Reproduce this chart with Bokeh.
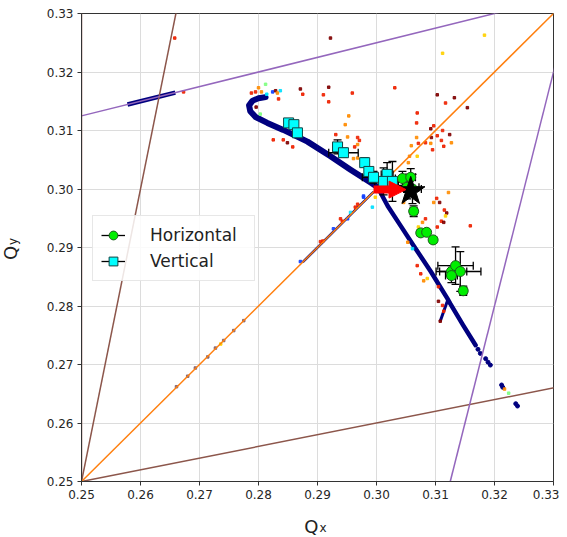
import numpy as np
from math import pi
from bokeh.plotting import figure
from bokeh.models import (Range1d, FixedTicker, Label, Legend, LegendItem,
                          Arrow, NormalHead)
from bokeh.embed import file_html
from bokeh.resources import INLINE

# ---------------- data ----------------
tick_values = [0.25, 0.26, 0.27, 0.28, 0.29, 0.30, 0.31, 0.32, 0.33]
tick_labels = ["0.25", "0.26", "0.27", "0.28", "0.29", "0.30", "0.31", "0.32", "0.33"]

# resonance lines (end points, clipped by the frame)
res_x0 = [0.25, 0.25, 0.25, 0.25, 0.3125, 0.25]
res_y0 = [0.25, 0.25, 0.25, 0.3125, 0.25, 0.25]
res_x1 = [0.27, 0.35, 0.35, 0.35, 0.3375, 0.25]
res_y1 = [0.35, 0.27, 0.35, 0.3375, 0.35, 0.35]
res_col = ["#8c564b", "#8c564b", "#ff7f0e", "#9467bd", "#9467bd", "#8c564b"]

# tune footprint (dense navy band)
band_a_x = [0.2578, 0.2659]
band_a_y = [0.31445, 0.31648]
band_b1_x = [0.2812, 0.2800, 0.2790, 0.2784, 0.2786, 0.2795, 0.2815, 0.2842, 0.2883, 0.2922, 0.2956, 0.2990, 0.3002]
band_b1_y = [0.3157, 0.3155, 0.3151, 0.3143, 0.3133, 0.3123, 0.3113, 0.3101, 0.3081, 0.3056, 0.3033, 0.3011, 0.3003]
band_b2_x = [0.3002, 0.3019, 0.3041, 0.3063, 0.3092, 0.3120, 0.3125, 0.3147, 0.3168]
band_b2_y = [0.3003, 0.2971, 0.2937, 0.2903, 0.2859, 0.2813, 0.2804, 0.2767, 0.2733]
band_c_x = [0.2875, 0.2995]
band_c_y = [0.2875, 0.2995]
band_d_x = [0.3120, 0.3108]
band_d_y = [0.2808, 0.2774]
tail_x = [0.3172, 0.3176, 0.3185, 0.3189, 0.3193, 0.3212, 0.3214, 0.3236, 0.3239]
tail_y = [0.2726, 0.2719, 0.2710, 0.2704, 0.2699, 0.2665, 0.2661, 0.2633, 0.2629]

# scattered particles (jet-coloured)
DR, R, O, Y, LG, C, B, G = "#800000", "#ee2200", "#ff8c00", "#ffd000", "#80ff80", "#00e0ff", "#1040ff", "#806070"
dot_x = [0.3183, 0.3112, 0.3031, 0.3103, 0.3132, 0.3117, 0.3154, 0.3069, 0.3068, 0.3097,
         0.3092, 0.3103, 0.3112, 0.3124, 0.3093, 0.3068, 0.3110, 0.3059, 0.3071, 0.3092,
         0.3083, 0.3127, 0.3114, 0.3095, 0.3069, 0.3056, 0.3054, 0.3122, 0.3097, 0.3107,
         0.3102, 0.3115, 0.3119, 0.3117, 0.3110, 0.3114, 0.3159, 0.3083, 0.3078, 0.3071,
         0.3103, 0.3046, 0.2922, 0.2658, 0.2673, 0.2812, 0.2800, 0.2788, 0.2795, 0.2805,
         0.2814, 0.2824, 0.2829, 0.2837, 0.2832, 0.2834, 0.2871, 0.2875, 0.2919, 0.2910,
         0.2959, 0.2919, 0.2953, 0.2947, 0.2931, 0.2951, 0.2968, 0.2971, 0.2968, 0.2963,
         0.2825, 0.2842, 0.2849, 0.2858, 0.2961, 0.2968, 0.3069, 0.3075, 0.3080, 0.3105,
         0.3112, 0.3105, 0.3114, 0.3061, 0.3086, 0.3108, 0.3217, 0.3224, 0.3053, 0.2978,
         0.2968, 0.2964, 0.2956, 0.2951, 0.2942, 0.2939, 0.2927, 0.2909, 0.2905, 0.2871,
         0.2993, 0.2998, 0.2978, 0.2775, 0.2758, 0.2741, 0.2736, 0.2727, 0.2714, 0.2693,
         0.2680, 0.2661, 0.2803, 0.2796]
dot_y = [0.3263, 0.3232, 0.3173, 0.3161, 0.3156, 0.3147, 0.3139, 0.3130, 0.3113, 0.3108,
         0.3103, 0.3091, 0.3100, 0.3093, 0.3088, 0.3088, 0.3083, 0.3074, 0.3078, 0.3078,
         0.3079, 0.3079, 0.3073, 0.3067, 0.3056, 0.3056, 0.3045, 0.2994, 0.2977, 0.2977,
         0.2984, 0.2964, 0.2959, 0.2954, 0.2945, 0.2943, 0.2937, 0.2949, 0.2943, 0.2935,
         0.2935, 0.2977, 0.3258, 0.3258, 0.3166, 0.3179, 0.3173, 0.3164, 0.3166, 0.3166,
         0.3162, 0.3166, 0.3168, 0.3168, 0.3164, 0.3154, 0.3171, 0.3162, 0.3174, 0.3161,
         0.3164, 0.3149, 0.3125, 0.3110, 0.3093, 0.3089, 0.3088, 0.3083, 0.3076, 0.3072,
         0.3084, 0.3084, 0.3079, 0.3072, 0.3052, 0.3053, 0.2869, 0.2855, 0.2843, 0.2833,
         0.2801, 0.2808, 0.2791, 0.2898, 0.2847, 0.2774, 0.2658, 0.2651, 0.2909, 0.2986,
         0.2974, 0.2969, 0.2960, 0.2949, 0.2945, 0.2949, 0.2932, 0.2911, 0.2910, 0.2876,
         0.2969, 0.2986, 0.2988, 0.2775, 0.2758, 0.2741, 0.2735, 0.2728, 0.2713, 0.2694,
         0.2680, 0.2662, 0.3128, 0.3140]
dot_c = [Y, Y, R, DR, DR, R, DR, R, R, R,
         DR, R, R, DR, DR, O, R, O, R, O,
         R, O, R, R, Y, O, O, O, O, DR,
         R, R, DR, Y, R, DR, R, R, O, Y,
         R, O, DR, R, R, LG, O, R, R, O,
         C, B, DR, C, O, R, DR, R, DR, R,
         R, R, O, O, R, O, R, R, O, R,
         R, R, DR, R, O, O, R, R, O, R,
         R, DR, R, C, Y, DR, O, LG, O, B,
         R, R, C, B, R, R, B, R, R, B,
         C, Y, B, G, G, G, Y, G, G, G,
         G, G, LG, DR]

# measured tunes with error bars
h_x = [0.3044, 0.3058, 0.3052, 0.3061, 0.3063, 0.3075, 0.3085, 0.3096, 0.3127, 0.3134, 0.3142, 0.3127, 0.3147]
h_y = [0.3018, 0.3020, 0.3003, 0.3000, 0.2962, 0.2925, 0.2926, 0.2913, 0.2859, 0.2869, 0.2859, 0.2852, 0.2826]
h_ex = [0.0012, 0.0008, 0.0020, 0.0015, 0.0006, 0.0004, 0.0004, 0.0004, 0.0026, 0.0030, 0.0035, 0.0010, 0.0006]
h_ey = [0.0012, 0.0015, 0.0020, 0.0025, 0.0009, 0.0005, 0.0004, 0.0005, 0.0010, 0.0032, 0.0034, 0.0012, 0.0008]

v_x = [0.2851, 0.2860, 0.2866, 0.2934, 0.2944, 0.2980, 0.2987, 0.2995, 0.3018, 0.3012, 0.3027]
v_y = [0.3113, 0.3110, 0.3096, 0.3072, 0.3062, 0.3045, 0.3030, 0.3020, 0.3025, 0.3013, 0.3013]
v_ex = [0.0004, 0.0004, 0.0004, 0.0008, 0.0025, 0.0006, 0.0006, 0.0019, 0.0010, 0.0015, 0.0010]
v_ey = [0.0004, 0.0004, 0.0004, 0.0012, 0.0008, 0.0008, 0.0006, 0.0010, 0.0020, 0.0023, 0.0034]

# working point and tune shift
star_x = [0.3058]
star_y = [0.2996]
arrow_x = [0.2995, 0.3050]
arrow_y = [0.2999, 0.2999]

# ---------------- figure ----------------
FONT = "DejaVu Sans"
p = figure(width=559, height=536, output_backend="svg", toolbar_location=None,
           x_range=Range1d(0.25, 0.33), y_range=Range1d(0.25, 0.33),
           min_border_left=81, min_border_right=6, min_border_top=13, min_border_bottom=51)
p.background_fill_color = "white"
p.border_fill_color = "white"
p.outline_line_color = "#333333"
p.outline_line_width = 1

for ax in (p.xaxis, p.yaxis):
    ax.ticker = FixedTicker(ticks=tick_values)
    ax.major_label_overrides = {v: s for v, s in zip(tick_values, tick_labels)}
    ax.major_label_text_font = FONT
    ax.major_label_text_font_size = "12px"
    ax.major_label_text_color = "#262626"
    ax.major_tick_out = 4
    ax.major_tick_in = 0
    ax.minor_tick_out = 0
    ax.minor_tick_in = 0
    ax.major_tick_line_color = "#333333"
    ax.axis_line_color = "#333333"
    ax.major_label_standoff = 4
p.grid.grid_line_color = "#dcdcdc"
p.grid.grid_line_width = 1

# navy footprint
NAVY = "#00007f"
p.line(band_a_x, band_a_y, line_color=NAVY, line_width=4.5)
p.line(band_b1_x, band_b1_y, line_color=NAVY, line_width=6, line_join="round", line_cap="round")
p.line(band_b2_x, band_b2_y, line_color=NAVY, line_width=4.5, line_join="round", line_cap="round")
p.line(band_c_x, band_c_y, line_color=NAVY, line_width=2.5)
p.line(band_d_x, band_d_y, line_color=NAVY, line_width=3)
p.scatter(tail_x, tail_y, size=4, color=NAVY)

# scattered coloured particles
p.scatter(x=dot_x, y=dot_y, color=dot_c, size=2.5, marker="square", alpha=0.9)

# resonance lines
p.segment(x0=res_x0, y0=res_y0, x1=res_x1, y1=res_y1, line_color=res_col, line_width=1.5)

def errorbars(xs, ys, exs, eys):
    xs, ys, exs, eys = map(np.asarray, (xs, ys, exs, eys))
    hb = p.segment(x0=xs - exs, x1=xs + exs, y0=ys, y1=ys, line_color="black", line_width=1.3)
    p.segment(x0=xs, x1=xs, y0=ys - eys, y1=ys + eys, line_color="black", line_width=1.3)
    p.scatter(np.concatenate([xs, xs]), np.concatenate([ys - eys, ys + eys]),
              marker="dash", size=8, line_color="black", line_width=1.3)
    p.scatter(np.concatenate([xs - exs, xs + exs]), np.concatenate([ys, ys]),
              marker="dash", angle=pi / 2, size=8, line_color="black", line_width=1.3)
    return hb

hb_v = errorbars(v_x, v_y, v_ex, v_ey)
hb_h = errorbars(h_x, h_y, h_ex, h_ey)
r_v = p.scatter(v_x, v_y, marker="square", size=10, fill_color="#00ffff", line_color="#114444", line_width=1)
r_h = p.scatter(h_x, h_y, marker="circle", size=10, fill_color="#00ee00", line_color="#1d5c1d", line_width=1)

arrow = Arrow(x_start=arrow_x[0], y_start=arrow_y[0], x_end=arrow_x[1], y_end=arrow_y[1],
              line_color="red", line_width=8,
              end=NormalHead(size=17, fill_color="red", line_color="red", line_width=1))
p.add_layout(arrow)
p.scatter(star_x, star_y, marker="star", size=30, fill_color="black", line_color="black")

legend = Legend(items=[LegendItem(label="Horizontal", renderers=[hb_h, r_h]),
                       LegendItem(label="Vertical", renderers=[hb_v, r_v])],
                location=(11, 200), label_text_font=FONT, label_text_font_size="17px",
                label_text_color="#222222", glyph_width=24, glyph_height=22, padding=8,
                spacing=4, label_standoff=25, label_width=96, margin=0,
                border_line_color="#d0d0d0", border_line_width=1,
                background_fill_color="white", background_fill_alpha=0.85)
p.add_layout(legend)

# axis labels  Q_x  /  Q_y  (placed in side panels so they are not clipped by the frame)
p.add_layout(Label(x=0.29017, y=0.24235, text="Q", text_font=FONT, text_font_size="18px",
                   text_align="right", text_baseline="alphabetic", text_color="#222222"), "below")
p.add_layout(Label(x=0.29034, y=0.24201, text="x", text_font=FONT, text_font_size="12px",
                   text_align="left", text_baseline="alphabetic", text_color="#222222"), "below")
p.add_layout(Label(x=0.23797, y=0.29027, text="Q", text_font=FONT, text_font_size="18px", angle=pi / 2,
                   text_align="right", text_baseline="alphabetic", text_color="#222222"), "left")
p.add_layout(Label(x=0.23831, y=0.29044, text="y", text_font=FONT, text_font_size="12px", angle=pi / 2,
                   text_align="left", text_baseline="alphabetic", text_color="#222222"), "left")

open("out.html", "w").write(file_html(p, INLINE))
